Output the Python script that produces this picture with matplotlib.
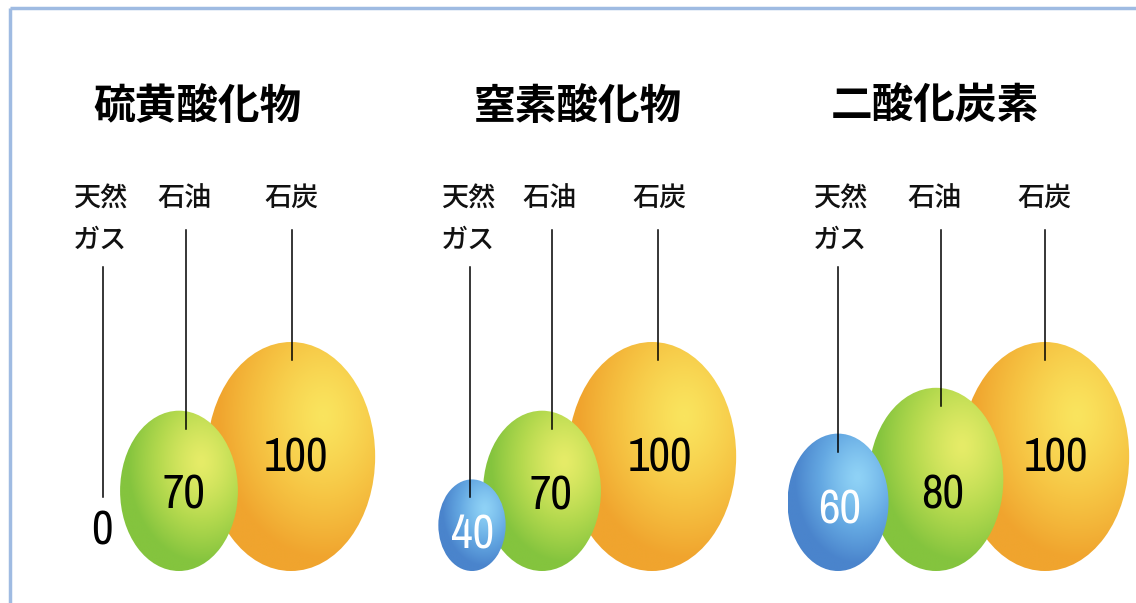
import numpy as np
import matplotlib
matplotlib.use("Agg")
import matplotlib.pyplot as plt
from matplotlib import font_manager
from matplotlib.patches import Ellipse
from matplotlib.colors import LinearSegmentedColormap

plt.rcParams['font.family'] = ['Noto Sans CJK JP', 'DejaVu Sans']

# data
titles = ["硫黄酸化物", "窒素酸化物", "二酸化炭素"]
fuels = ["天然\nガス", "石油", "石炭"]
sox = [0, 70, 100]
nox = [40, 70, 100]
co2 = [60, 80, 100]
values = [sox, nox, co2]

# layout (pixel coords of a 1136x603 canvas)
title_x = [197, 578, 935]
label_x = [[100, 185, 292], [468, 550, 660], [840, 935, 1045]]
line_x = [[103, 186, 292], [470, 552, 658], [838, 941, 1045]]
ell_x = [[103, 179, 291], [472, 542, 652], [838, 936, 1045]]
num_x = [[102, 184, 296], [473, 551, 660], [840, 943, 1056]]
num_y = [[531, 495, 458], [535, 496, 458], [510, 495, 458]]
baseline = 571
px_per_unit = 2.29
aspect = 0.735

colors = {
    0: ["#8fd2f6", "#64a8e2", "#4a84cc"],
    1: ["#e6ec68", "#b4d94e", "#84c43e"],
    2: ["#fae45e", "#f6c443", "#f0a42e"],
}
num_color = ["white", "black", "black"]

# pick a narrow face for the numbers if one is installed
names = sorted({f.name for f in font_manager.fontManager.ttflist})
narrow = [n for n in names if "Narrow" in n or "Condensed" in n]
num_font = narrow[0] if narrow else "DejaVu Sans"
num_size = 34 if narrow else 27

fig = plt.figure(figsize=(11.36, 6.03), dpi=100)
ax = fig.add_axes([0, 0, 1, 1])
ax.set_xlim(0, 1136)
ax.set_ylim(603, 0)
ax.axis("off")

# frame
ax.plot([10, 1136], [8, 8], color="#9fbbe2", lw=2.5, solid_capstyle="butt")
ax.plot([10, 10], [8, 603], color="#9fbbe2", lw=2.5, solid_capstyle="butt")


def blob(cx, h, kind):
    w = h * aspect
    cy = baseline - h / 2
    cmap = LinearSegmentedColormap.from_list("g", colors[kind])
    xs = np.linspace(cx - w / 2, cx + w / 2, 200)
    ys = np.linspace(cy - h / 2, cy + h / 2, 200)
    X, Y = np.meshgrid(xs, ys)
    hx, hy = cx + 0.19 * w, cy - 0.18 * h
    d = np.sqrt(((X - hx) / (w / 2)) ** 2 + ((Y - hy) / (h / 2)) ** 2)
    d = np.clip(d / 1.25, 0, 1) ** 1.3
    e = Ellipse((cx, cy), w, h, facecolor="none", edgecolor="none")
    ax.add_patch(e)
    im = ax.imshow(d, cmap=cmap, vmin=0, vmax=1, origin="upper",
                   extent=(cx - w / 2, cx + w / 2, cy + h / 2, cy - h / 2),
                   interpolation="bilinear", zorder=2)
    im.set_clip_path(e)
    return cy - h / 2


for g in range(3):
    ax.text(title_x[g], 107, titles[g], ha="center", va="center",
            fontsize=30, fontweight="bold", color="black")
    tops = {}
    for i in [2, 1, 0]:
        v = values[g][i]
        if v > 0:
            tops[i] = blob(ell_x[g][i], v * px_per_unit, i)
    for i in range(3):
        v = values[g][i]
        ax.text(label_x[g][i], 185, fuels[i], ha="center", va="top",
                fontsize=19.5, fontweight="medium", linespacing=1.68,
                color="#111111")
        y0 = 267 if i == 0 else 230
        y1 = tops[i] + 18 if v > 0 else 497
        ax.plot([line_x[g][i]] * 2, [y0, y1], color="black", lw=1.1, zorder=3)
        ax.text(num_x[g][i], num_y[g][i], str(v), ha="center", va="center",
                fontsize=num_size, color=num_color[i] if v > 0 else "black",
                family=[num_font, "DejaVu Sans"], fontstretch="condensed",
                fontweight="light", zorder=4)

fig.savefig("out.png", dpi=100)
